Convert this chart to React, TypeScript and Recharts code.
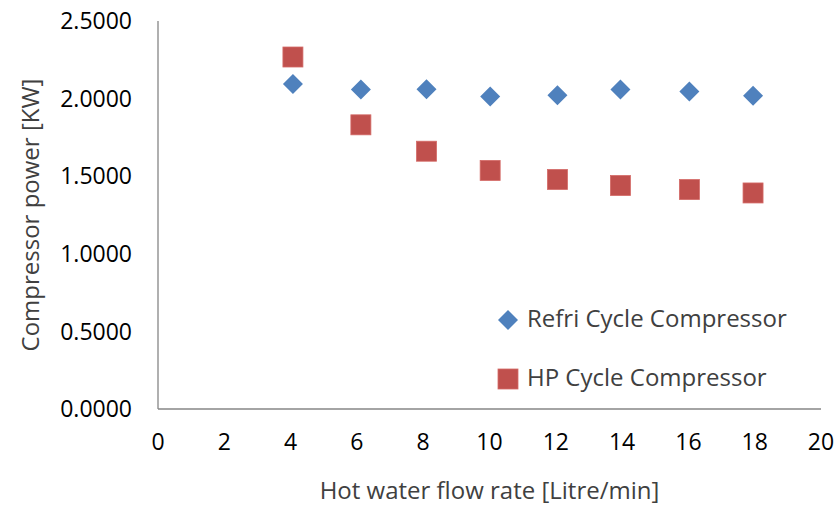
import React from "react";
import {
  ScatterChart,
  Scatter,
  XAxis,
  YAxis,
  Legend,
} from "recharts";

// measured flow rates and compressor power readings
const flowRate = [4.07, 6.12, 8.1, 10.02, 12.05, 13.95, 16.03, 17.95];
const refriPower = [2.094, 2.059, 2.061, 2.014, 2.021, 2.059, 2.046, 2.018];
const hpPower = [2.268, 1.831, 1.661, 1.537, 1.479, 1.44, 1.414, 1.392];

const xTicks = [0, 2, 4, 6, 8, 10, 12, 14, 16, 18, 20];
const yTicks = [0, 0.5, 1, 1.5, 2, 2.5];

const BLUE = "#4F81BD";
const RED = "#C0504D";
const FONT = "'Open Sans', sans-serif";

const refriData = flowRate.map((x, i) => ({ x, y: refriPower[i] }));
const hpData = flowRate.map((x, i) => ({ x, y: hpPower[i] }));

const Diamond = ({ cx, cy }: any) => (
  <polygon
    points={`${cx},${cy - 10} ${cx + 10},${cy} ${cx},${cy + 10} ${cx - 10},${cy}`}
    fill={BLUE}
  />
);

const Square = ({ cx, cy }: any) => (
  <rect
    x={cx - 10}
    y={cy - 10}
    width={20}
    height={20}
    fill={RED}
    stroke="#D46A67"
    strokeWidth={0.8}
  />
);

const series = [
  { name: "Refri Cycle Compressor", shape: Diamond },
  { name: "HP Cycle Compressor", shape: Square },
];

const tickStyle = { fill: "#000", fontSize: 23, fontFamily: FONT, fontWeight: 500 };
const titleStyle = { fill: "#404040", fontSize: 24, fontFamily: FONT };

const renderLegend = () => (
  <div style={{ fontFamily: FONT, fontSize: 24, color: "#404040" }}>
    {series.map((s) => {
      const Shape = s.shape;
      return (
        <div
          key={s.name}
          style={{ display: "flex", alignItems: "center", height: 59 }}
        >
          <svg width={22} height={22}>
            <Shape cx={11} cy={11} />
          </svg>
          <span style={{ marginLeft: 8, whiteSpace: "nowrap", marginTop: -4 }}>
            {s.name}
          </span>
        </div>
      );
    })}
  </div>
);

export default function App() {
  return (
    <div style={{ position: "absolute", left: 0, top: 0, background: "#fff" }}>
      <ScatterChart
        width={838}
        height={505}
        margin={{ top: 21, right: 17, left: 0, bottom: 0 }}
      >
        <XAxis
          type="number"
          dataKey="x"
          domain={[0, 20]}
          ticks={xTicks}
          interval={0}
          height={96}
          tickLine={false}
          tickSize={0}
          tickMargin={25}
          stroke="#868686"
          strokeWidth={1.3}
          tick={tickStyle}
          label={{
            value: "Hot water flow rate [Litre/min]",
            position: "insideBottom",
            offset: 6,
            style: titleStyle,
          }}
        />
        <YAxis
          type="number"
          dataKey="y"
          domain={[0, 2.5]}
          ticks={yTicks}
          interval={0}
          width={158}
          tickLine={false}
          tickSize={0}
          tickMargin={26}
          stroke="#868686"
          strokeWidth={1.3}
          tickFormatter={(v: number) => v.toFixed(4)}
          tick={tickStyle}
          label={{
            value: "Compressor power [KW]",
            angle: -90,
            position: "insideLeft",
            offset: 30,
            style: { ...titleStyle, textAnchor: "middle" },
          }}
        />
        <Legend
          layout="vertical"
          align="center"
          verticalAlign="middle"
          wrapperStyle={{ left: 497, top: 290, width: "auto" }}
          content={renderLegend}
        />
        <Scatter
          name="Refri Cycle Compressor"
          data={refriData}
          fill={BLUE}
          shape={Diamond}
          isAnimationActive={false}
        />
        <Scatter
          name="HP Cycle Compressor"
          data={hpData}
          fill={RED}
          shape={Square}
          isAnimationActive={false}
        />
      </ScatterChart>
    </div>
  );
}
